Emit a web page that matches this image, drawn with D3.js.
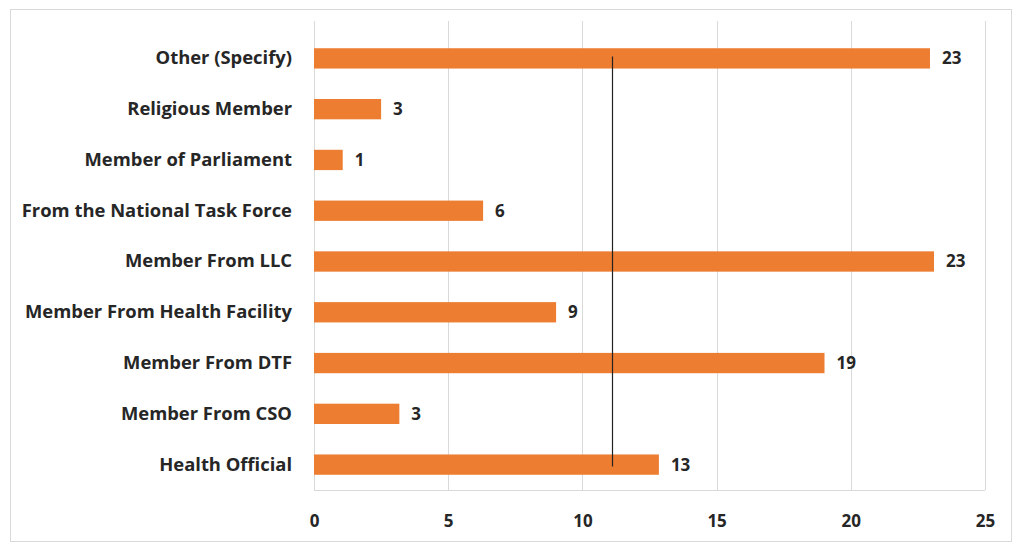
<!DOCTYPE html>
<html>
<head>
<meta charset="utf-8">
<script src="https://cdn.jsdelivr.net/npm/d3@7/dist/d3.min.js"></script>
<style>
  html, body { margin: 0; padding: 0; background: #fff; }
  svg { display: block; font-family: "Open Sans", "Noto Sans", sans-serif; }
</style>
</head>
<body>
<svg id="chart" width="1017" height="545"></svg>
<script>
const categories = [
  "Other (Specify)",
  "Religious Member",
  "Member of Parliament",
  "From the National Task Force",
  "Member From LLC",
  "Member From Health Facility",
  "Member From DTF",
  "Member From CSO",
  "Health Official"
];
const values = [22.95, 2.5, 1.07, 6.3, 23.1, 9.02, 19.02, 3.18, 12.85];
const xTicks = [0, 5, 10, 15, 20, 25];

const svg = d3.select("#chart");
const W = 1017, H = 545;
const margin = { left: 314, right: 32, top: 33, bottom: 55 };

svg.append("rect")
  .attr("x", 10.5).attr("y", 9.5)
  .attr("width", W - 16).attr("height", H - 13)
  .attr("fill", "#fff").attr("stroke", "#d9d9d9").attr("stroke-width", 1);

const x = d3.scaleLinear().domain([0, 25]).range([margin.left, W - margin.right]);
const y = d3.scaleBand().domain(categories).range([margin.top, H - margin.bottom]).paddingInner(0.6).paddingOuter(0.3);

// gridlines
svg.append("g").selectAll("line").data(xTicks).join("line")
  .attr("x1", d => Math.round(x(d)) + 0.5).attr("x2", d => Math.round(x(d)) + 0.5)
  .attr("y1", margin.top - 12).attr("y2", H - margin.bottom)
  .attr("stroke", "#d9d9d9").attr("stroke-width", 1);

// bottom axis line
svg.append("line")
  .attr("x1", x(0)).attr("x2", x(25))
  .attr("y1", H - margin.bottom + 0.5).attr("y2", H - margin.bottom + 0.5)
  .attr("stroke", "#d9d9d9");

// bars
svg.append("g").selectAll("rect").data(values).join("rect")
  .attr("x", x(0))
  .attr("y", (d, i) => y(categories[i]))
  .attr("width", d => x(d) - x(0))
  .attr("height", y.bandwidth())
  .attr("fill", "#ED7D31");

// mean line
const mean = d3.mean(values);
svg.append("line")
  .attr("x1", Math.round(x(mean)) + 0.5).attr("x2", Math.round(x(mean)) + 0.5)
  .attr("y1", y(categories[0]) + y.bandwidth() / 2 - 2)
  .attr("y2", y(categories[categories.length - 1]) + y.bandwidth() / 2 + 2)
  .attr("stroke", "#222").attr("stroke-width", 1.2);

// data labels
const fmt = d3.format(".0f");
svg.append("g").selectAll("text").data(values).join("text")
  .attr("x", d => x(d) + 12)
  .attr("y", (d, i) => y(categories[i]) + y.bandwidth() / 2)
  .attr("dy", "0.35em")
  .attr("font-size", 17).attr("font-weight", "bold").attr("fill", "#262626")
  .text(d => fmt(d));

// y axis labels
const yAxis = d3.axisLeft(y).tickSize(0).tickPadding(22);
const gy = svg.append("g").attr("transform", `translate(${margin.left},0)`).call(yAxis);
gy.select(".domain").remove();
gy.selectAll("text").attr("font-size", 18.4).attr("font-weight", "bold").attr("fill", "#262626")
  .attr("font-family", "'Open Sans', sans-serif");

// x axis labels
const xAxis = d3.axisBottom(x).tickValues(xTicks).tickSize(0).tickPadding(25);
const gx = svg.append("g").attr("transform", `translate(0,${H - margin.bottom})`).call(xAxis);
gx.select(".domain").remove();
gx.selectAll("text").attr("font-size", 17).attr("font-weight", "bold").attr("fill", "#262626")
  .attr("font-family", "'Open Sans', sans-serif");
</script>
</body>
</html>
